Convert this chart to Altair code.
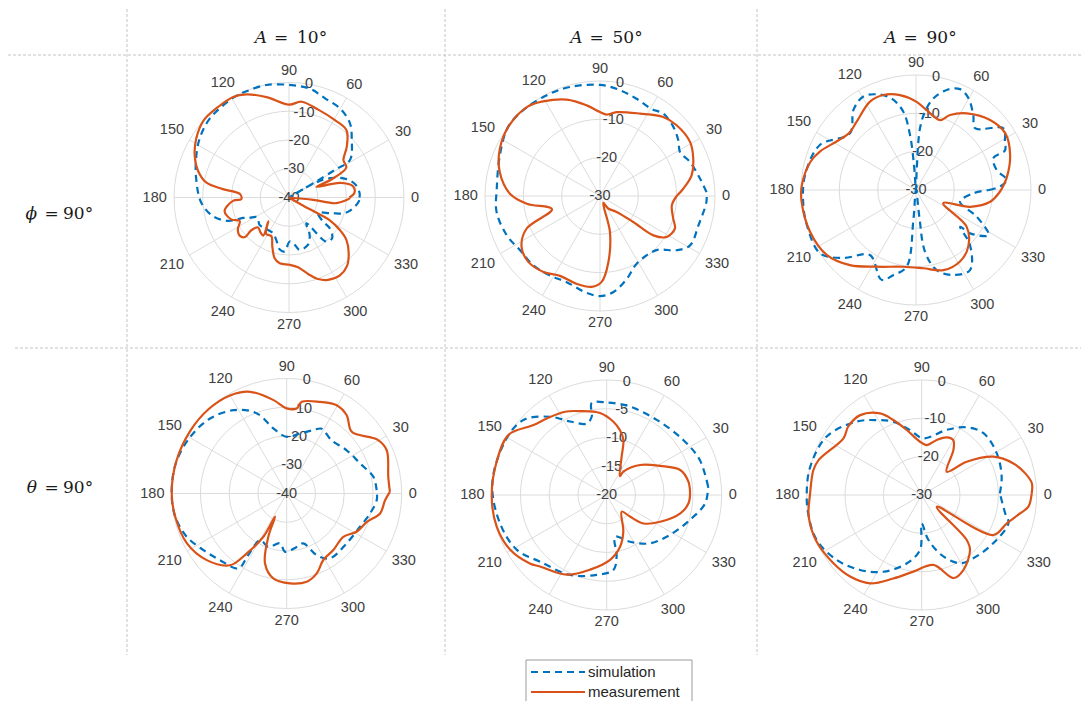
import altair as alt
import pandas as pd

# ---------------- values ----------------
COL_VAR = ["A", "A", "A"]
COL_VAL = ["10°", "50°", "90°"]
ROW_VAR = ["ϕ", "θ"]
ROW_VAL = ["90°", "90°"]
ANGLE_TICKS = [0, 30, 60, 90, 120, 150, 180, 210, 240, 270, 300, 330]
SERIES = ["simulation", "measurement"]

P1_TICKS = [-40, -30, -20, -10, 0]
P1_SIM_ANG = [0, 3.5, 10.8, 17.7, 25, 29.5, 30, 30.5, 31, 31.6, 42.5, 50.6, 60.2, 70, 79, 88.6, 101.3, 111.8, 118.4, 135,
              146.8, 157.5, 168.8, 183.3, 193.6, 201, 204, 207, 212, 223, 235, 245.8, 253, 260, 265.4, 271, 277, 281.5, 292, 299,
              304, 310.3, 316.8, 323, 324.8, 331.6, 339.7, 344.3, 350.5, 356.7]
P1_SIM_DB = [-15.5, -15.4, -16.4, -19, -24, -30, -40, -30, -21, -15.1, -10.4, -6.6, -4.3, -3.3, -1.5, -0.9, -0.1, -0.2, -0.2, -1.1,
             -2.8, -5, -7.1, -9.4, -12.7, -17.3, -22.5, -24.5, -27, -26, -26.5, -26.4, -24.7, -21.6, -21.2, -24.7, -23.4, -21.4, -22.3, -25.2,
             -29.2, -19.9, -19.4, -22.3, -25.5, -28.5, -24.3, -19.9, -17.4, -15.7]
P1_MEAS_ANG = [0, 4, 10, 16, 21, 23, 27.6, 34.6, 41.4, 49.5, 59.3, 71.6, 82.5, 90, 102.6, 112.4, 119, 128, 138, 147.7,
               156, 163.6, 169.7, 172.8, 176, 182, 183.4, 191.8, 200.7, 205.5, 212, 218, 222, 221, 224, 231, 236, 229, 238, 245.6,
               251.2, 256.7, 262, 270.6, 277.4, 284, 289.6, 295.3, 302.9, 310, 317, 323.6, 327.5, 331, 331, 330, 329, 350, 354.5, 353.2,
               359.4]
P1_MEAS_DB = [-19, -17.2, -17.4, -21.5, -29.7, -24, -17.5, -17, -13.2, -9.2, -8.7, -7.8, -6.4, -7.7, -4.2, -1.2, 0, 0, 0, -1.8,
              -4.1, -7, -10.7, -16.8, -22.9, -23.4, -20.5, -17.1, -18.5, -21, -19, -18.3, -19.5, -22.5, -25, -24.3, -24, -29, -25, -25.2,
              -22, -18.3, -16.9, -16.6, -15.5, -12.6, -9.9, -8.3, -7.6, -8.7, -11.6, -15.2, -19.1, -24, -29, -35, -40, -40, -31.6, -23.4,
              -18.9]

P2_TICKS = [-30, -20, -10, 0]
P2_SIM_ANG = [2.1, 9.8, 20.7, 28.8, 35, 43.3, 52.4, 59.4, 69.4, 79.3, 90, 105.4, 116, 129.6, 142.9, 157.9, 176, 188.8, 202.8, 214.2,
              226, 237.8, 248.8, 262, 270, 278, 288, 298.5, 316.2, 324.7, 331.3, 343.4, 356.8]
P2_SIM_DB = [-2.2, -3.5, -4.9, -6.2, -5, -3.7, -2.9, -3.6, -2.9, -1.9, -1, -0.5, -0.3, 0, 0, -1.8, -3, -2.7, -3.6, -4.8,
             -4.9, -5.5, -5.9, -4.5, -3.9, -4.7, -7.3, -9.9, -9.6, -5.5, -3.2, -3.2, -2.2]
P2_MEAS_ANG = [0, 5, 12.7, 21.8, 31, 42.7, 51.3, 64.1, 78.8, 85.3, 90, 98.4, 109, 121, 129, 142, 154.7, 166.5, 178.5, 186,
               195.4, 204, 213, 222.6, 233.3, 243.4, 255, 264.8, 271.1, 277.2, 285.5, 295, 303.3, 316.2, 322, 323.6, 328.4, 336.5, 342.8, 352.6]
P2_MEAS_DB = [-10, -8.2, -5.5, -3.8, -2.6, -2.8, -3.6, -6.1, -7.7, -8.7, -8.1, -6.1, -3.4, -1.2, 0, 0, -1.1, -3.1, -6.5, -10.8,
              -17, -9, -5.6, -4.6, -5.3, -6.7, -6.3, -6.2, -7.6, -12.6, -20.3, -28, -26.1, -24, -19, -12.7, -9.6, -8.7, -10, -11.1]

P3_TICKS = [-30, -20, -10, 0]
P3_SIM_ANG = [0, 2.3, 6.3, 13.9, 22.3, 24, 28.5, 35.2, 46.3, 52.6, 60.3, 66.5, 73, 79.3, 83.4, 86.3, 88, 93, 94.6, 96.2,
              99.2, 104.9, 111.5, 119.4, 128, 139.4, 154.9, 172.3, 185.9, 197.8, 213.4, 223, 234.7, 249, 255, 263, 265, 270, 277.1, 278.3,
              284.5, 293.7, 304, 314.5, 320.2, 321.3, 328.1, 336.3, 345.1, 356.7]
P3_SIM_DB = [-11, -8.1, -6.2, -8.3, -8.2, -4.6, -3.6, -2.1, -7.7, -5.4, -2.4, -1.3, -2.7, -5.7, -9.4, -13.9, -25.2, -30, -23.5, -15.6,
             -9.3, -5.3, -3.2, -2, -3.5, -7.3, -2.3, -0.8, -0.4, -0.1, 0, -4, -9.2, -4.9, -7, -9.8, -22.2, -30, -23, -13.7,
             -8.4, -5.8, -4.8, -9.9, -15, -11.9, -7.7, -12.7, -18.1, -15]
P3_MEAS_ANG = [0, 7.3, 20.4, 32.5, 43.4, 56.5, 65.6, 71, 82.4, 89.6, 99.6, 109, 117.5, 131, 139.4, 148.6, 158.2, 165, 177.5, 185.8,
               201.5, 216, 228.7, 242.8, 260.6, 275.3, 288.9, 301.6, 312.7, 324.1, 334, 342.8, 351]
P3_MEAS_DB = [-7.8, -6.2, -3.8, -2.4, -3.4, -6, -8.5, -10.7, -9, -7, -4.9, -3.8, -4, -6.4, -7.1, -5.7, -3, -1.5, -0.2, 0,
              -0.3, -1.2, -3.9, -7.5, -9.7, -9.5, -7.9, -8.1, -9.9, -13.7, -22.1, -15.2, -10.4]

P4_TICKS = [-40, -30, -20, -10, 0]
P4_SIM_ANG = [2.1, 10.9, 22.2, 35.8, 49.8, 61.7, 67.2, 77.5, 90, 101.6, 108.8, 113.9, 122.6, 135.6, 149.6, 165, 180, 191.8, 203.4, 214.2,
              225, 237.2, 238, 240.3, 251, 262.4, 268.4, 280.6, 288.4, 296, 303.7, 320.2, 335.6, 346.5, 355.8]
P4_SIM_DB = [-8.7, -9.3, -12.4, -14.3, -15.8, -14.4, -16.1, -18.6, -20.3, -16.9, -11.3, -8.6, -5.6, -2.7, -1.1, 0, 0, -0.4, -2.1, -5,
             -7.2, -9, -14.5, -21.3, -20.4, -22.5, -19.7, -21.1, -21.7, -16.1, -12.9, -12.9, -12, -10.2, -8.6]
P4_MEAS_ANG = [0.9, 9.3, 23.4, 30.7, 43.5, 52.5, 60.5, 70, 80.7, 83.3, 90, 98, 109.8, 120, 132.7, 147, 163.6, 180, 191.8, 206.6,
               219.8, 231.7, 236.3, 241.7, 243.4, 247, 252.8, 261, 272.1, 282.8, 290.6, 298.8, 309.5, 322.6, 331.3, 340.5, 347.9, 356.1]
P4_MEAS_DB = [-4.1, -4.2, -2.1, -3.3, -8.8, -5.7, -4.7, -6.1, -7.7, -10.2, -10.4, -7.2, -2.4, -0.6, 0, 0, 0, 0, -0.4, -1.2,
              -3.8, -8.2, -15, -22.9, -31, -23.6, -14.5, -10.1, -8.7, -8.5, -10.3, -13.6, -14.5, -15.2, -12.3, -10.4, -6.8, -5.7]

P5_TICKS = [-20, -15, -10, -5, 0]
P5_SIM_ANG = [4.7, 20.6, 35.7, 56.3, 75.2, 90, 99.3, 100.8, 105.6, 116.6, 125.9, 138, 151.3, 174.2, 194.9, 211.4, 225, 245.4, 262.9, 275.1,
              279.2, 281.3, 296.6, 311.9, 327.7, 343.3, 355.2]
P5_SIM_DB = [-2.3, -2.7, -3.6, -4.3, -4.1, -3.9, -3.8, -6.1, -7.1, -5.7, -3.2, -0.5, 0, 0, -0.8, -1.7, -3.6, -4.7, -6, -6.9,
             -9.2, -12.6, -10.9, -8.7, -7, -4.9, -2.8]
P5_MEAS_ANG = [1.1, 9.3, 18.8, 28.5, 42, 54.5, 55, 68.6, 73.1, 78.4, 84.8, 94.7, 107.6, 116.6, 128, 136.3, 148.3, 162.8, 180.8, 196,
               209.6, 221.7, 227, 243.4, 257.5, 273, 284.5, 294.4, 312, 317.1, 322.3, 333.4, 346, 354.2]
P5_MEAS_DB = [-5.5, -5.6, -6.5, -9.4, -12.2, -15, -16, -12.9, -10, -8.5, -7.2, -5.7, -4.7, -3.8, -3.1, -2.4, 0, 0, 0, -0.1,
              -0.7, -2.1, -3, -4.5, -6.7, -8.7, -10.7, -13, -16.1, -14.5, -11.9, -9.6, -6.8, -5.7]

P6_TICKS = [-30, -20, -10, 0]
P6_SIM_ANG = [1.2, 12.9, 29, 45, 56.4, 69, 88.3, 100.2, 111.1, 121, 131.6, 148.4, 166.2, 180, 190.7, 203.2, 217.4, 230.6, 243.4, 257.6,
              268.3, 270, 278.4, 289.4, 299.3, 309.2, 326, 342, 347.6]
P6_SIM_DB = [-9.6, -8.6, -7.6, -7.2, -8.8, -11.8, -15.2, -12.8, -9.5, -7.2, -4.4, -0.9, 0, 0, 0, -0.2, -2.1, -4.7, -7.6, -11.7,
             -15.7, -22.6, -18.2, -13, -9.6, -8.7, -7.5, -6.2, -7.7]
P6_MEAS_ANG = [0.9, 6.1, 11.8, 19, 28.1, 36.5, 43, 54.9, 60, 66.6, 74.7, 84.3, 91.8, 103, 110.7, 117, 127.6, 137, 144.1, 161.3,
               167, 179, 190.7, 203.7, 217.7, 228.7, 239.7, 251.2, 263.8, 279.5, 291, 299, 311.3, 315, 322.1, 330.8, 341.6, 349.4, 353.8]
P6_MEAS_DB = [-1.3, -1.1, -2.4, -4.7, -8.8, -15.4, -21.1, -15.6, -13.5, -13.6, -15.1, -16.9, -16.1, -12.6, -9.1, -6.1, -3.7, -3.8, -4.8, -1.6,
              -1, -0.9, 0, 0, -0.9, -1.7, -3.3, -7, -9.9, -11.5, -6.8, -7.6, -10.9, -13.4, -25, -8.6, -6.6, -3.9, -2]

# ---------------- layout (page pixel coordinates) ----------------
R = 115
PANELS = [
    dict(cx=289, cy=197.5, ticks=P1_TICKS, sim=(P1_SIM_ANG, P1_SIM_DB), meas=(P1_MEAS_ANG, P1_MEAS_DB)),
    dict(cx=600, cy=196, ticks=P2_TICKS, sim=(P2_SIM_ANG, P2_SIM_DB), meas=(P2_MEAS_ANG, P2_MEAS_DB)),
    dict(cx=916, cy=190, ticks=P3_TICKS, sim=(P3_SIM_ANG, P3_SIM_DB), meas=(P3_MEAS_ANG, P3_MEAS_DB)),
    dict(cx=286.7, cy=493.5, ticks=P4_TICKS, sim=(P4_SIM_ANG, P4_SIM_DB), meas=(P4_MEAS_ANG, P4_MEAS_DB)),
    dict(cx=606.7, cy=495, ticks=P5_TICKS, sim=(P5_SIM_ANG, P5_SIM_DB), meas=(P5_MEAS_ANG, P5_MEAS_DB)),
    dict(cx=921.7, cy=495, ticks=P6_TICKS, sim=(P6_SIM_ANG, P6_SIM_DB), meas=(P6_MEAS_ANG, P6_MEAS_DB)),
]
COL_X = [290.5, 606, 920]
HEAD_Y = 38
ROW_Y = [214, 488]

XS = alt.Scale(domain=[8, 1081], nice=False, zero=False)
YS = alt.Scale(domain=[701, 8], nice=False, zero=False)
FONT = "Liberation Sans"
SERIF = "DejaVu Serif"
TICK_COLOR = "#404040"
TICK_SIZE = 14.5
GRID = "#dcdcdc"
BLUE = "#0072BD"
ORANGE = "#D95319"
DASH = [7, 5]


def X(f):
    return alt.X(f, type="quantitative", scale=XS, axis=None)


def Y(f):
    return alt.Y(f, type="quantitative", scale=YS, axis=None)


# ---------------- tables ----------------
curve_rows, ring_rows, spoke_rows, alab_rows, rlab_rows = [], [], [], [], []
for pi, p in enumerate(PANELS):
    rmin = p["ticks"][0]
    for s, (ang, db) in zip(SERIES, (p["sim"], p["meas"])):
        ang2 = list(ang) + [ang[0] + 360]
        db2 = list(db) + [db[0]]
        for i, (a, d) in enumerate(zip(ang2, db2)):
            curve_rows.append(dict(key=f"{pi}-{s}", series=s, idx=i, ang=a, db=d,
                                   cx=p["cx"], cy=p["cy"], rmin=rmin))
    for t in p["ticks"]:
        rlab_rows.append(dict(cx=p["cx"], cy=p["cy"], rmin=rmin, t=t, label=str(t)))
        if t != rmin:
            ring_rows.append(dict(cx=p["cx"], cy=p["cy"], rmin=rmin, t=t))
    for a in ANGLE_TICKS:
        alab_rows.append(dict(cx=p["cx"], cy=p["cy"], a=a, label=str(a)))
        if a < 180:
            spoke_rows.append(dict(cx=p["cx"], cy=p["cy"], a=a))

curves = pd.DataFrame(curve_rows)
rings = pd.DataFrame(ring_rows)
spokes = pd.DataFrame(spoke_rows)
alabs = pd.DataFrame(alab_rows)
rlabs = pd.DataFrame(rlab_rows)

# separators (layout)
seps = pd.DataFrame([
    dict(x=127, y=9, x2=127, y2=655),
    dict(x=445, y=9, x2=445, y2=655),
    dict(x=757, y=9, x2=757, y2=655),
    dict(x=8, y=55, x2=1081, y2=55),
    dict(x=15, y=348, x2=1081, y2=348),
])
sep_layer = alt.Chart(seps).mark_rule(color="#c4c4c4", strokeWidth=1, strokeDash=[3, 2]).encode(
    x=X("x"), y=Y("y"), x2="x2:Q", y2="y2:Q")

ring_layer = alt.Chart(rings).transform_calculate(
    rr=f"{R} * (datum.t - datum.rmin) / (0 - datum.rmin)"
).transform_calculate(
    sz="(2 * datum.rr) * (2 * datum.rr)"
).mark_point(shape="circle", filled=False, stroke=GRID, strokeWidth=1, opacity=1).encode(
    x=X("cx"), y=Y("cy"), size=alt.Size("sz:Q", scale=None, legend=None))

spoke_layer = alt.Chart(spokes).transform_calculate(
    ra="datum.a * PI / 180"
).transform_calculate(
    x1=f"datum.cx + {R} * cos(datum.ra)", y1=f"datum.cy - {R} * sin(datum.ra)",
).transform_calculate(
    x2=f"datum.cx - {R} * cos(datum.ra)", y2=f"datum.cy + {R} * sin(datum.ra)",
).mark_rule(color=GRID, strokeWidth=1).encode(x=X("x1"), y=Y("y1"), x2="x2:Q", y2="y2:Q")

alab_layer = alt.Chart(alabs).transform_calculate(
    ra="datum.a * PI / 180"
).transform_calculate(
    off=f"{R} + 7 + abs(cos(datum.ra)) * length(datum.label) * 4.1 + abs(sin(datum.ra)) * 5"
).transform_calculate(
    lx="datum.cx + datum.off * cos(datum.ra)", ly="datum.cy - datum.off * sin(datum.ra)"
).mark_text(font=FONT, fontSize=TICK_SIZE, color=TICK_COLOR, align="center", baseline="middle").encode(
    x=X("lx"), y=Y("ly"), text="label:N")

rlab_layer = alt.Chart(rlabs).transform_calculate(
    rr=f"{R} * (datum.t - datum.rmin) / (0 - datum.rmin)"
).transform_calculate(
    lx="datum.cx + datum.rr * cos(80 * PI / 180)", ly="datum.cy - datum.rr * sin(80 * PI / 180)"
).mark_text(font=FONT, fontSize=TICK_SIZE, color=TICK_COLOR, align="center", baseline="middle").encode(
    x=X("lx"), y=Y("ly"), text="label:N")

curve_base = alt.Chart(curves).transform_calculate(
    rr=f"{R} * clamp((datum.db - datum.rmin) / (0 - datum.rmin), 0, 1)"
).transform_calculate(
    px="datum.cx + datum.rr * cos(datum.ang * PI / 180)"
).transform_calculate(
    py="datum.cy - datum.rr * sin(datum.ang * PI / 180)"
)
sim_layer = curve_base.transform_filter("datum.series == 'simulation'").mark_line(
    color=BLUE, strokeWidth=2.2, strokeDash=DASH, interpolate="catmull-rom").encode(
    x=X("px"), y=Y("py"), detail="key:N", order="idx:Q")
meas_layer = curve_base.transform_filter("datum.series == 'measurement'").mark_line(
    color=ORANGE, strokeWidth=2.2, interpolate="catmull-rom").encode(
    x=X("px"), y=Y("py"), detail="key:N", order="idx:Q")

# headers
heads = pd.DataFrame([dict(c=c, var=v, val=t, y=HEAD_Y) for c, v, t in zip(COL_X, COL_VAR, COL_VAL)] +
                     [dict(c=58, var=v, val=t, y=y) for y, v, t in zip(ROW_Y, ROW_VAR, ROW_VAL)])
heads["is_col"] = [1, 1, 1, 0, 0]
head_base = alt.Chart(heads).transform_calculate(
    vx="datum.is_col == 1 ? datum.c - 23.5 : 37",
    ex="datum.is_col == 1 ? datum.c - 9.5 : 51.5",
    tx="datum.is_col == 1 ? datum.c + 6.5 : 63",
)
head_var = head_base.mark_text(font=SERIF, fontSize=17, fontStyle="italic", color="#1a1a1a",
                               align="right", baseline="middle").encode(x=X("vx"), y=Y("y"), text="var:N")
head_eq = head_base.mark_text(font=SERIF, fontSize=17, color="#1a1a1a", align="center",
                              baseline="middle", text="=").encode(x=X("ex"), y=Y("y"))
head_val = head_base.mark_text(font=SERIF, fontSize=17, color="#1a1a1a", align="left",
                               baseline="middle").encode(x=X("tx"), y=Y("y"), text="val:N")

# legend (drawn by hand)
leg_box = alt.Chart(pd.DataFrame([dict(x=526, x2=692, y=660, y2=720)])).mark_rect(
    fill="white", stroke="#9a9a9a", strokeWidth=1).encode(x=X("x"), x2="x2:Q", y=Y("y"), y2="y2:Q")
leg = pd.DataFrame(dict(series=SERIES, y=[672, 692]))
leg_sim = alt.Chart(leg).transform_filter("datum.series == 'simulation'").mark_rule(
    color=BLUE, strokeWidth=2.2, strokeDash=DASH).encode(
    x=alt.X(datum=531, type="quantitative", scale=XS, axis=None), x2=alt.X2(datum=585), y=Y("y"))
leg_meas = alt.Chart(leg).transform_filter("datum.series == 'measurement'").mark_rule(
    color=ORANGE, strokeWidth=2.2).encode(
    x=alt.X(datum=531, type="quantitative", scale=XS, axis=None), x2=alt.X2(datum=585), y=Y("y"))
leg_text = alt.Chart(leg).mark_text(font=FONT, fontSize=15, color="#262626", align="left",
                                    baseline="middle").encode(
    x=alt.X(datum=588, type="quantitative", scale=XS, axis=None), y=Y("y"), text="series:N")

chart = alt.layer(
    sep_layer, ring_layer, spoke_layer, alab_layer, rlab_layer, sim_layer, meas_layer,
    head_var, head_eq, head_val, leg_box, leg_sim, leg_meas, leg_text,
).properties(
    width=1073, height=693, padding=0, autosize=alt.AutoSizeParams(type="none")
).configure_view(stroke=None)

chart.save("out.html", embed_options={"renderer": "svg", "actions": False})
